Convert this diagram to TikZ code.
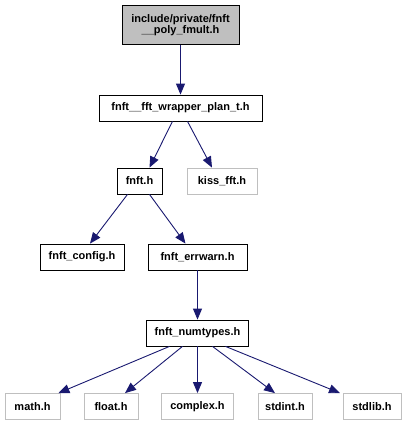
\documentclass[tikz,border=0pt]{standalone}
\usepackage{fontspec}
\setmainfont{Liberation Sans}
\usetikzlibrary{arrows.meta}

\definecolor{edgeblue}{HTML}{191970}
\definecolor{extgray}{HTML}{BFBFBF}

\begin{document}
\begin{tikzpicture}[
    x=1pt, y=-1pt,
    basenode/.style={rectangle, draw=black, thick, fill=white, inner sep=0pt,
                     minimum height=26pt, font=\fontsize{11}{12.5}\selectfont\bfseries},
    rootnode/.style={basenode, fill=extgray, align=center, minimum height=39pt},
    extnode/.style={basenode, draw=extgray},
    dep/.style={-{Triangle[length=11pt, width=9pt]}, edgeblue, line width=0.9pt},
]
\useasboundingbox (0,0) rectangle (407,425);

% --- File being documented ---
\node[rootnode, minimum width=117pt] (root) at (180.5, 25)
    {include/private/fnft\\[-1pt]\_\_poly\_fmult.h};

% --- Direct include ---
\node[basenode, minimum width=163pt] (wrap) at (180.5, 108) {fnft\_\_fft\_wrapper\_plan\_t.h};

% --- Second level ---
\node[basenode, minimum width=45pt] (fnft) at (139.5, 181) {fnft.h};
\node[extnode, minimum width=70pt]  (kiss) at (222, 181) {kiss\_fft.h};

% --- Third level ---
\node[basenode, minimum width=84pt] (config)  at (82, 257)  {fnft\_config.h};
\node[basenode, minimum width=99pt] (errwarn) at (197.5, 257) {fnft\_errwarn.h};

% --- Numeric types ---
\node[basenode, minimum width=102pt] (numtypes) at (197.5, 333) {fnft\_numtypes.h};

% --- System headers ---
\node[extnode, minimum width=55pt] (math)    at (32.5, 406.5) {math.h};
\node[extnode, minimum width=54pt] (float)   at (111, 406.5)  {float.h};
\node[extnode, minimum width=72pt] (complex) at (197.5, 406.5) {complex.h};
\node[extnode, minimum width=54pt] (stdint)  at (285, 406.5)  {stdint.h};
\node[extnode, minimum width=58pt] (stdlib)  at (372, 406.5)  {stdlib.h};

% --- Include edges ---
\draw[dep] (root) -- (wrap);
\draw[dep] ([xshift=-8pt]wrap.south) -- ([xshift=10pt]fnft.north);
\draw[dep] ([xshift=7pt]wrap.south) -- ([xshift=-10pt]kiss.north);
\draw[dep] ([xshift=-12pt]fnft.south) -- ([xshift=8pt]config.north);
\draw[dep] ([xshift=10pt]fnft.south) -- ([xshift=-12pt]errwarn.north);
\draw[dep] (errwarn) -- (numtypes);
\draw[dep] ([xshift=-28pt]numtypes.south) -- ([xshift=-2pt]math.north east);
\draw[dep] ([xshift=-15pt]numtypes.south) -- ([xshift=14pt]float.north);
\draw[dep] (numtypes) -- (complex);
\draw[dep] ([xshift=15pt]numtypes.south) -- ([xshift=-10pt]stdint.north);
\draw[dep] ([xshift=28pt]numtypes.south) -- ([xshift=-32pt]stdlib.north);

\end{tikzpicture}
\end{document}
